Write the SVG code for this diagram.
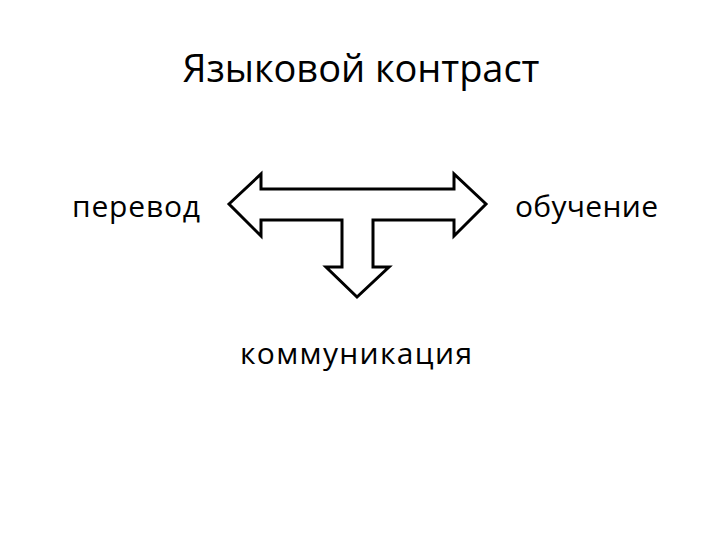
<svg xmlns="http://www.w3.org/2000/svg" width="720" height="540" viewBox="0 0 720 540">
<style>text{font-family:"Open Sans","Liberation Sans",sans-serif;fill:#000}.a{fill:#fff;stroke:#000;stroke-width:3;stroke-linejoin:miter}</style>
<rect width="720" height="540" fill="#fff"/>
<text x="361" y="82" font-size="38" text-anchor="middle" textLength="357">Языковой контраст</text>
<g id="perevod"><text x="72" y="217" font-size="30" textLength="128">перевод</text></g>
<g id="obuchenie"><text x="515" y="217" font-size="30" textLength="143">обучение</text></g>
<g id="kommunikatsiya"><text x="240" y="364" font-size="30" textLength="232">коммуникация</text></g>
<g id="connectors"><path class="a" d="M229,204 L261,174 L261,189 L454,189 L454,174 L486,204 L454,236 L454,220 L373,220 L373,267 L389,267 L357,297 L326,267 L342,267 L342,220 L261,220 L261,236 Z"/></g>
</svg>
